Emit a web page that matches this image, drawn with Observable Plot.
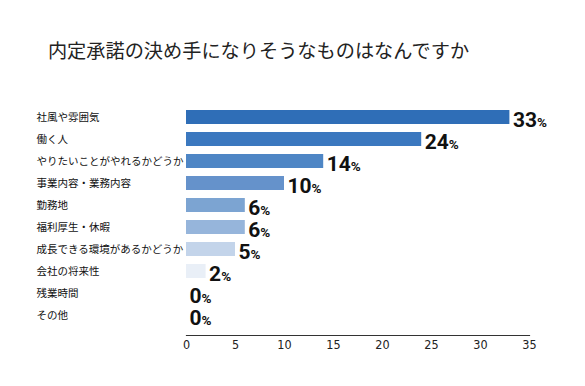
<!DOCTYPE html>
<html>
<head>
<meta charset="utf-8">
<script src="https://cdn.jsdelivr.net/npm/d3@7"></script>
<script src="https://cdn.jsdelivr.net/npm/@observablehq/plot@0.6"></script>
<style>
  html, body { margin: 0; padding: 0; background: #fff; }
  #wrap { width: 585px; height: 386px; position: relative; overflow: hidden; }
  #title { position: absolute; left: 0; top: 36px; width: 517px; text-align: center;
    font-family: "Noto Sans CJK JP", "Noto Sans", sans-serif; font-size: 19.2px; color: #222; line-height: 28px; }
  #chart { position: absolute; left: 0; top: 85px; }
</style>
</head>
<body>
<div id="wrap">
  <div id="title">内定承諾の決め手になりそうなものはなんですか</div>
  <div id="chart"></div>
</div>
<script>
const categories = ["社風や雰囲気", "働く人", "やりたいことがやれるかどうか", "事業内容・業務内容", "勤務地", "福利厚生・休暇", "成長できる環境があるかどうか", "会社の将来性", "残業時間", "その他"];
const values = [33, 24, 14, 10, 6, 6, 5, 2, 0, 0];
const barColors = ["#2f6eb7", "#3b78bf", "#4e86c5", "#6592cb", "#7ca4d2", "#96b5db", "#c3d4ea", "#e9eff7", "#ffffff", "#ffffff"];
const xTicks = [0, 5, 10, 15, 20, 25, 30, 35];

const data = categories.map((c, i) => ({label: c, value: values[i], color: barColors[i]}));

const chart = Plot.plot({
  width: 585,
  height: 301,
  marginLeft: 186,
  marginRight: 56,
  marginTop: 12,
  marginBottom: 51,
  style: {fontFamily: "Roboto, 'Open Sans', sans-serif", background: "#fff"},
  x: {domain: [0, 35], ticks: xTicks, label: null},
  y: {domain: categories, padding: 0.35, label: null, axis: null},
  marks: [
    Plot.barX(data, {y: "label", x: "value", fill: "color"}),
    Plot.frame({anchor: "bottom", stroke: "#333", strokeWidth: 1.2}),
    Plot.axisX({ticks: xTicks, tickSize: 0, tickPadding: 5, fontSize: 12.5, color: "#222", label: null,
      fontFamily: "'DejaVu Sans Condensed', Roboto, sans-serif"}),
    Plot.text(data, {y: "label", text: "label", frameAnchor: "left", textAnchor: "start", dx: -150,
      fontSize: 10.5, fill: "#111", fontFamily: "'Noto Sans CJK JP', sans-serif"}),
    Plot.text(data, {y: "label", x: "value", text: d => d.value + "%", textAnchor: "start", dx: 3, dy: 2.5,
      fontSize: 21, fontWeight: "bold", fill: "#111", className: "vlabel",
      fontFamily: "Roboto, sans-serif"})
  ]
});

// render the "%" smaller than the number
d3.select(chart).selectAll(".vlabel text").each(function() {
  const t = this.textContent;
  const num = t.replace("%", "");
  const sel = d3.select(this);
  sel.text(null);
  sel.append("tspan").text(num);
  sel.append("tspan").attr("font-size", 13.5).text("%");
});

document.getElementById("chart").appendChild(chart);
</script>
</body>
</html>
